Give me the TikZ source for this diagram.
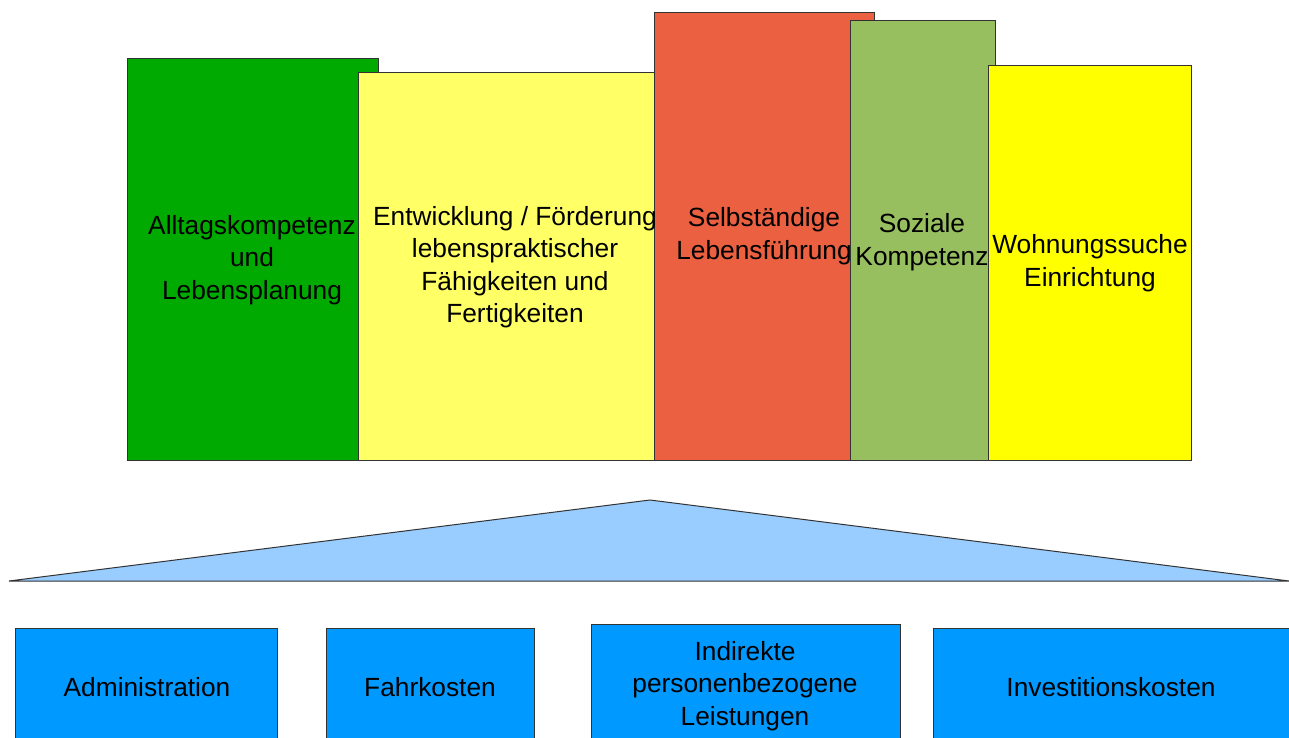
\documentclass[tikz,border=0pt]{standalone}
\usepackage{fontspec}
\setmainfont{Liberation Sans}
\definecolor{cgreen}{HTML}{00AA00}
\definecolor{clyellow}{HTML}{FFFF66}
\definecolor{cred}{HTML}{EA6040}
\definecolor{colive}{HTML}{97BE5F}
\definecolor{cyellow}{HTML}{FFFF00}
\definecolor{ctri}{HTML}{99CCFF}
\definecolor{cblue}{HTML}{0099FF}
\begin{document}
\begin{tikzpicture}[x=1pt,y=-1pt,
  bar/.style={draw=black!80,line width=1pt,rectangle,inner sep=0pt,anchor=north west,align=center},
  lbl/.style={align=center,inner sep=0pt,font=\fontsize{26.3}{32.5}\selectfont},
  costbox/.style={draw=black!80,line width=1pt,fill=cblue,rectangle,inner sep=0pt,anchor=north west,align=center}]
\useasboundingbox (0,0) rectangle (1289,738);
% top bars
\node[bar,fill=cgreen,minimum width=251pt,minimum height=402pt] (g) at (127,58) {};
\node[bar,fill=clyellow,minimum width=297pt,minimum height=388pt] (ly) at (358,72) {};
\node[bar,fill=cred,minimum width=220pt,minimum height=448pt] (r) at (654,12) {};
\node[bar,fill=colive,minimum width=145pt,minimum height=440pt] (o) at (850,20) {};
\node[bar,fill=cyellow,minimum width=203pt,minimum height=395pt] (y) at (988,65) {};
\node[lbl] (tg) at (252,260) {Alltagskompetenz\\und\\Lebensplanung};
\node[lbl] (tly) at (515,267) {Entwicklung / Förderung\\lebenspraktischer\\Fähigkeiten und\\Fertigkeiten};
\node[lbl] (tr) at (764,236) {Selbständige\\Lebensführung};
\node[lbl] (to) at (922,242) {Soziale\\Kompetenz};
\node[lbl] (ty) at (1090,263) {Wohnungssuche\\Einrichtung};
% triangle
\coordinate (tl) at (9,581);
\coordinate (tt) at (650,500);
\coordinate (tR) at (1289,581);
\draw[draw=black!80,line width=1pt,fill=ctri] (tl) -- (tt) -- (tR) -- cycle;
% bottom boxes
\node[costbox,minimum width=262pt,minimum height=120pt] (b1) at (15,628) {};
\node[costbox,minimum width=208pt,minimum height=120pt] (b2) at (326,628) {};
\node[costbox,minimum width=309pt,minimum height=124pt] (b3) at (591,624) {};
\node[costbox,minimum width=362pt,minimum height=120pt] (b4) at (933,628) {};
\node[lbl] (t1) at (147,687) {Administration};
\node[lbl] (t2) at (430,687) {Fahrkosten};
\node[lbl] (t3) at (745,686) {Indirekte\\personenbezogene\\Leistungen};
\node[lbl] (t4) at (1111,687) {Investitionskosten};
\end{tikzpicture}
\end{document}
